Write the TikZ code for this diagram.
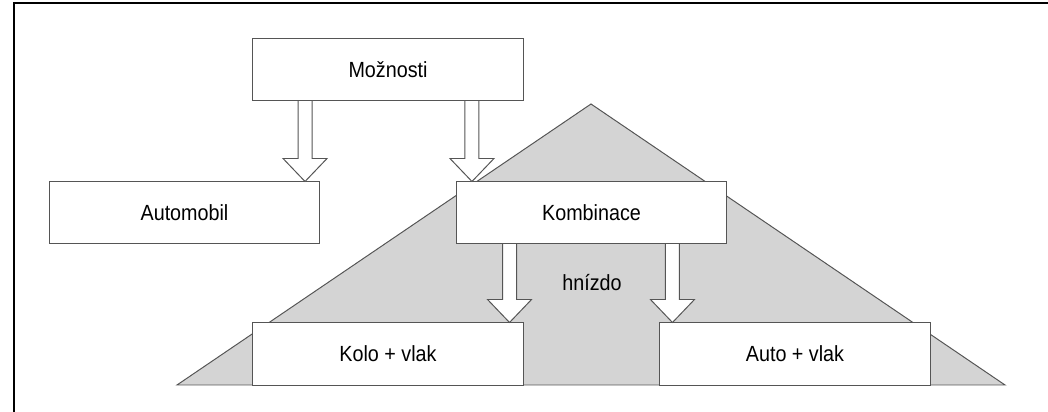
\documentclass[tikz,border=0pt]{standalone}
\usepackage{fontspec}
\setmainfont{Liberation Sans}
\usepackage{graphicx}
\usepackage{tikz}
\usetikzlibrary{calc}
\definecolor{edgegray}{RGB}{85,85,85}
\definecolor{nestgray}{RGB}{212,212,212}

\tikzset{
  box/.style={draw=edgegray, fill=white, line width=0.7pt, inner sep=0pt,
    minimum width=6.75cm, minimum height=1.525cm,
    font=\fontsize{15.6}{18}\selectfont},
  blockarrow/.style={draw=edgegray, fill=white, line width=0.7pt, line join=miter}
}
\newcommand{\lbl}[1]{\scalebox{0.9}[1]{#1}}
% hollow arrow: #1 source node, #2 tip point
\newcommand{\hollowarrow}[2]{%
  \coordinate (tip) at (#2);
  \coordinate (tail) at (#1.south -| tip);
  \draw[blockarrow] ($(tail)+(-7,0)$) -- ($(tip)+(-7,-23)$) -- ($(tip)+(-22,-23)$)
    -- (tip) -- ($(tip)+(22,-23)$) -- ($(tip)+(7,-23)$) -- ($(tail)+(7,0)$) -- cycle;}

\begin{document}
\begin{tikzpicture}[x=0.025cm, y=-0.025cm]
  \useasboundingbox (0,0) rectangle (1048,412);
  % frame
  \draw[line width=1.4pt, line cap=butt] (1048,3) -- (14,3) -- (14,412);

  % nest
  \draw[fill=nestgray, draw=edgegray, line width=0.7pt] (177,385) -- (591,104) -- (1005,385) -- cycle;
  \node[font=\fontsize{15.6}{18}\selectfont] (nest) at (592,283) {\lbl{hnízdo}};

  \node[box] (mozn) at (388,69.5) {\lbl{Možnosti}};
  \node[box] (auto) at (184.5,212.5) {\lbl{Automobil}};
  \node[box] (komb) at (591.5,212.5) {\lbl{Kombinace}};
  \node[box, minimum height=1.55cm] (kolo) at (388,354) {\lbl{Kolo + vlak}};
  \node[box, minimum height=1.55cm] (autovlak) at (795,354) {\lbl{Auto + vlak}};

  \hollowarrow{mozn}{$(auto.north east)+(-15,0)$}
  \hollowarrow{mozn}{$(komb.north west)+(16,0)$}
  \hollowarrow{komb}{$(kolo.north east)+(-14,0)$}
  \hollowarrow{komb}{$(autovlak.north west)+(13,0)$}
\end{tikzpicture}
\end{document}
